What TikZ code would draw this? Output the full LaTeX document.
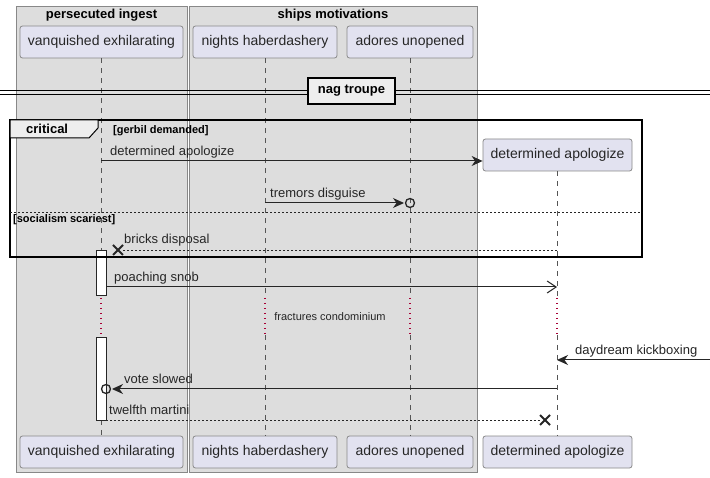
\documentclass[tikz,border=0pt]{standalone}
\usepackage{fontspec}
\setmainfont{Liberation Sans}
\usetikzlibrary{arrows.meta}
\definecolor{grp}{HTML}{DDDDDD}
\definecolor{grpb}{HTML}{888888}
\definecolor{part}{HTML}{E2E2F0}
\definecolor{tabf}{HTML}{EEEEEE}
\definecolor{life}{HTML}{555555}
\definecolor{delayc}{HTML}{A80036}
\tikzset{
  grpbox/.style={draw=grpb, fill=grp, line width=0.8pt},
  partbox/.style={draw=grpb, fill=part, rounded corners=2.5pt, line width=0.8pt, minimum height=32pt, inner xsep=6pt, font=\fontsize{14}{16}\selectfont, text=black!85},
  lifeline/.style={draw=life, dash pattern=on 5pt off 5pt, line width=0.7pt},
  delayline/.style={draw=delayc, dash pattern=on 1.2pt off 3.8pt, line width=1.1pt},
  msg/.style={draw=black!85, line width=1pt},
  msgd/.style={draw=black!85, line width=0.9pt, dash pattern=on 2pt off 2pt},
  lbl/.style={font=\fontsize{13}{15}\selectfont, text=black!85, inner sep=0pt, anchor=base west},
  fill arrow/.style={-{Stealth[length=11pt,width=10pt,inset=3.5pt]}},
  open arrow/.style={-{Straight Barb[length=9pt,width=12pt,line width=1pt]}},
  actbar/.style={draw=black!85, fill=white, line width=0.8pt},
  xmark/.style={draw=black!85, line width=1.8pt},
  circmark/.style={draw=black!85, line width=1.3pt},
}
\begin{document}
\begin{tikzpicture}[x=1pt,y=-1pt]
\useasboundingbox (0,0) rectangle (710,478);
\fill[white] (0,0) rectangle (710,478);
% groups
\draw[grpbox] (16,6) rectangle (187,472);
\draw[grpbox] (189,6) rectangle (477,472);
\node[font=\bfseries\fontsize{13}{15}\selectfont] (g1) at (101.5,15) {persecuted ingest};
\node[font=\bfseries\fontsize{13}{15}\selectfont] (g2) at (333,15) {ships motivations};
% participants top
\node[partbox, minimum width=163pt] (vt) at (101.5,42) {vanquished exhilarating};
\node[partbox, minimum width=144pt] (nt) at (265,42) {nights haberdashery};
\node[partbox, minimum width=126pt] (at) at (410,42) {adores unopened};
\node[partbox, minimum width=149pt] (dt) at (557.5,155) {determined apologize};
% bottom
\node[partbox, minimum width=163pt] (vb) at (101.5,452) {vanquished exhilarating};
\node[partbox, minimum width=144pt] (nb) at (265,452) {nights haberdashery};
\node[partbox, minimum width=126pt] (ab) at (410,452) {adores unopened};
\node[partbox, minimum width=149pt] (db) at (557.5,452) {determined apologize};
% lifeline coordinates
\coordinate (v1) at (101,250);
\coordinate (v2) at (101,298);
\coordinate (v3) at (101,335);
\coordinate (n1) at (265,298);
\coordinate (n2) at (265,335);
\coordinate (a1) at (410,298);
\coordinate (a2) at (410,335);
\coordinate (d1) at (557,298);
\coordinate (d2) at (557,335);
\draw[lifeline] (vt.south -| v1) -- (v1);
\draw[lifeline] (101,420) -- (vb.north -| v1);
\draw[delayline] (v2) -- (v3);
\draw[lifeline] (nt.south -| n1) -- (n1);
\draw[delayline] (n1) -- (n2);
\draw[lifeline] (n2) -- (nb.north -| n2);
\draw[lifeline] (at.south -| a1) -- (a1);
\draw[delayline] (a1) -- (a2);
\draw[lifeline] (a2) -- (ab.north -| a2);
\draw[lifeline] (dt.south -| d1) -- (d1);
\draw[delayline] (d1) -- (d2);
\draw[lifeline] (d2) -- (db.north -| d2);
% divider
\draw[line width=1pt] (0,91) -- (710,91);
\draw[line width=1pt] (0,94.5) -- (710,94.5);
\node[draw=black, line width=1.5pt, fill=tabf, minimum width=87pt, minimum height=26pt, inner sep=0pt, font=\bfseries\fontsize{13}{15}\selectfont] (div) at (351.5,91) {nag troupe};
% activation bars
\draw[actbar] (96,250) rectangle (106,295);
\draw[actbar] (96,337) rectangle (106,420);
% critical frame
\draw[line width=1.5pt] (10,120) rectangle (642,257);
\draw[fill=tabf, line width=1pt] (10,120) -- (98,120) -- (98,128) -- (89,138) -- (10,138) -- cycle;
\node[font=\bfseries\fontsize{13}{15}\selectfont, anchor=base west, inner sep=0pt] (crit) at (26,134) {critical};
\node[font=\bfseries\fontsize{11}{13}\selectfont, anchor=base west, inner sep=0pt] (g) at (113,134) {[gerbil demanded]};
\draw[black!85, line width=0.9pt, dash pattern=on 2pt off 2pt] (10,212) -- (642,212);
\node[font=\bfseries\fontsize{11}{13}\selectfont, anchor=base west, inner sep=0pt] (s) at (13,223) {[socialism scariest]};
% messages
\coordinate (m1s) at (101,161);
\draw[msg, fill arrow] (m1s) -- (dt.west |- m1s);
\node[lbl] (l1) at (110,156) {determined apologize};
\coordinate (m2s) at (265,203);
\coordinate (m2e) at (410,203);
\draw[circmark] (m2e) circle (4.5pt);
\draw[msg, fill arrow] (m2s) -- ([xshift=-6pt]m2e);
\node[lbl] (l2) at (270,198) {tremors disguise};
\coordinate (m3s) at (557,250);
\coordinate (m3e) at (118,250);
\draw[msgd] (m3s) -- ([xshift=4pt]m3e);
\draw[xmark] ([shift={(-5pt,-5pt)}]m3e) -- ([shift={(5pt,5pt)}]m3e);
\draw[xmark] ([shift={(-5pt,5pt)}]m3e) -- ([shift={(5pt,-5pt)}]m3e);
\node[lbl] (l3) at (124,244) {bricks disposal};
\coordinate (m4s) at (106,287);
\coordinate (m4e) at (557,287);
\draw[msg, open arrow] (m4s) -- (m4e);
\node[lbl] (l4) at (114,282) {poaching snob};
\node[font=\fontsize{11}{13}\selectfont, text=black!85] (delay) at (330,317) {fractures condominium};
\coordinate (m5s) at (710,360);
\coordinate (m5e) at (557,360);
\draw[msg, fill arrow] (m5s) -- (m5e);
\node[lbl] (l5) at (575,355) {daydream kickboxing};
\coordinate (m6s) at (557,389);
\coordinate (m6e) at (106,389);
\draw[circmark] (m6e) circle (4.5pt);
\draw[msg, fill arrow] (m6s) -- ([xshift=6pt]m6e);
\node[lbl] (l6) at (124,384) {vote slowed};
\coordinate (m7s) at (106,420);
\coordinate (m7e) at (545,420);
\draw[msgd] (m7s) -- ([xshift=-4pt]m7e);
\draw[xmark] ([shift={(-5pt,-5pt)}]m7e) -- ([shift={(5pt,5pt)}]m7e);
\draw[xmark] ([shift={(-5pt,5pt)}]m7e) -- ([shift={(5pt,-5pt)}]m7e);
\node[lbl] (l7) at (109,414) {twelfth martini};
\end{tikzpicture}
\end{document}
